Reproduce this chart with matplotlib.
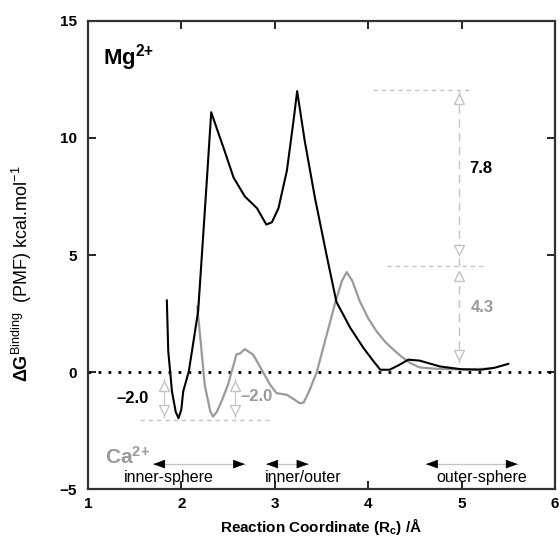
import matplotlib
matplotlib.use("Agg")
import matplotlib.pyplot as plt
import numpy as np

plt.rcParams['font.family'] = ['Liberation Sans', 'DejaVu Sans']
plt.rcParams['mathtext.fontset'] = 'custom'
plt.rcParams['mathtext.rm'] = 'Liberation Sans'
plt.rcParams['mathtext.bf'] = 'Liberation Sans:bold'
plt.rcParams['mathtext.it'] = 'Liberation Sans:italic'

# PMF for Mg2+ (black)
mg_x = [1.845, 1.86, 1.90, 1.94, 1.97, 2.00, 2.02, 2.08, 2.13, 2.18, 2.22, 2.27, 2.32,
        2.38, 2.45, 2.56, 2.68, 2.81, 2.91, 2.97, 3.04, 3.13, 3.20, 3.24, 3.32, 3.43,
        3.56, 3.66, 3.81, 3.95, 4.05, 4.13, 4.23, 4.33, 4.43, 4.55, 4.77, 5.0, 5.2,
        5.35, 5.5]
mg_y = [3.06, 0.89, -0.83, -1.7, -1.97, -1.6, -0.83, 0.03, 1.31, 2.6, 5.0, 8.0, 11.1,
        10.4, 9.6, 8.3, 7.5, 7.0, 6.3, 6.4, 7.0, 8.6, 10.7, 12.0, 9.9, 7.45,
        4.9, 3.0, 1.88, 1.03, 0.5, 0.1, 0.1, 0.3, 0.53, 0.49, 0.24, 0.12, 0.1,
        0.18, 0.35]

# PMF for Ca2+ (grey)
ca_x = [2.17, 2.20, 2.25, 2.31, 2.34, 2.38, 2.43, 2.50, 2.56, 2.59, 2.63, 2.68, 2.77,
        2.88, 2.95, 3.02, 3.13, 3.20, 3.27, 3.31, 3.37, 3.45, 3.55, 3.65, 3.72, 3.77,
        3.83, 3.91, 4.0, 4.09, 4.18, 4.27, 4.36, 4.45, 4.55, 4.7, 4.9, 5.1, 5.3]
ca_y = [2.8, 1.6, -0.54, -1.68, -1.9, -1.7, -1.25, -0.54, 0.32, 0.75, 0.8, 0.98, 0.74,
        -0.04, -0.54, -0.9, -0.97, -1.15, -1.33, -1.3, -0.8, 0.0, 1.5, 3.0, 3.9, 4.27,
        3.9, 3.03, 2.3, 1.74, 1.3, 0.96, 0.65, 0.39, 0.2, 0.15, 0.12, 0.12, 0.15]

x_ticks = [1, 2, 3, 4, 5, 6]
y_ticks = [-5, 0, 5, 10, 15]

# barrier / well depths
barrier_mg = 7.8
barrier_ca = 4.3
well_mg = -2.0
well_ca = -2.0

regions = ['inner-sphere', 'inner/outer', 'outer-sphere']
region_text_x = [1.865, 3.30, 5.22]
region_arrow_x = [(1.70, 2.68), (2.91, 3.36), (4.62, 5.60)]

GREY = '#9a9a9a'
LIGHT = '#c4c4c4'

fig = plt.figure(figsize=(5.6, 5.49), dpi=100)
ax = fig.add_axes([0.157, 0.109, 0.834, 0.853])

ax.axhline(0, color='black', lw=2.0, linestyle=(0, (1, 2.6)), zorder=1)

ax.plot(ca_x, ca_y, color=GREY, lw=1.6, zorder=3)
ax.plot(mg_x, mg_y, color='black', lw=1.5, zorder=4)

# barrier annotations (right)
ax.plot([4.05, 5.09], [12.05, 12.05], color=LIGHT, lw=1.0, ls=(0, (3, 3)))
ax.plot([4.20, 5.27], [4.52, 4.52], color=LIGHT, lw=1.0, ls=(0, (3, 3)))
ax.plot([4.97, 4.97], [12.0, 0.3], color=LIGHT, lw=1.0, ls=(0, (6, 4)))
ax.plot([4.97], [11.65], marker='^', ms=7, mfc='white', mec=LIGHT, mew=1.0)
ax.plot([4.97], [5.2], marker='v', ms=7, mfc='white', mec=LIGHT, mew=1.0)
ax.plot([4.97], [4.1], marker='^', ms=7, mfc='white', mec=LIGHT, mew=1.0)
ax.plot([4.97], [0.75], marker='v', ms=7, mfc='white', mec=LIGHT, mew=1.0)
ax.text(5.08, 8.7, f'{barrier_mg:.1f}', fontsize=12, fontweight='bold', color='black', va='center')
ax.text(5.10, 2.75, f'{barrier_ca:.1f}', fontsize=12, fontweight='bold', color=GREY, va='center')

# well annotations (left)
ax.plot([1.56, 2.95], [-2.05, -2.05], color=LIGHT, lw=1.0, ls=(0, (3, 3)))
for xa in [1.81, 2.575]:
    ax.plot([xa, xa], [-0.3, -1.9], color=LIGHT, lw=0.8)
    ax.plot([xa], [-0.6], marker='^', ms=7, mfc='white', mec=LIGHT, mew=1.0)
    ax.plot([xa], [-1.6], marker='v', ms=7, mfc='white', mec=LIGHT, mew=1.0)
ax.text(1.31, -1.14, f'\u2013{abs(well_mg):.1f}', fontsize=12, fontweight='bold', color='black', va='center')
ax.text(2.63, -1.05, f'\u2013{abs(well_ca):.1f}', fontsize=12, fontweight='bold', color=GREY, va='center')

# ion labels
ax.text(1.165, 13.13, r'Mg$^{\mathbf{2{+}}}$', fontsize=16, fontweight='bold', color='black', va='baseline')
ax.text(1.185, -3.9, r'Ca$^{\mathbf{2{+}}}$', fontsize=15, fontweight='bold', color=GREY, va='baseline')

# region arrows
for name, tx, (xa, xb) in zip(regions, region_text_x, region_arrow_x):
    ax.plot([xa, xb], [-3.93, -3.93], color=LIGHT, lw=1.0)
    for end, d in [(xa, 1), (xb, -1)]:
        ax.annotate('', xy=(end, -3.93), xytext=(end + d * 0.1, -3.93),
                    arrowprops=dict(arrowstyle='-|>,head_length=0.75,head_width=0.28',
                                    color='black', lw=0.5, shrinkA=0, shrinkB=0))
    ax.text(tx, -4.68, name, fontsize=11.5, ha='center', va='baseline')

ax.set_xlim(1, 6)
ax.set_ylim(-5, 15)
ax.set_xticks(x_ticks)
ax.set_yticks(y_ticks)
ax.tick_params(direction='in', length=6, width=1.2, top=True, right=True,
               labelsize=11)
ax.tick_params(axis='x', pad=6)
ax.tick_params(axis='y', pad=8)
for lab in ax.get_xticklabels() + ax.get_yticklabels():
    lab.set_fontweight('bold')
for sp in ax.spines.values():
    sp.set_linewidth(1.6)
    sp.set_color('#333333')

ax.set_xlabel(r'Reaction Coordinate (R$_{\mathbf{c}}$) /Å', fontsize=11, fontweight='bold')
ax.xaxis.set_label_coords(0.5, -0.058)
ax.set_ylabel(r'$\mathbf{\Delta G}^{\mathrm{Binding}}$  (PMF) kcal.mol$^{\mathrm{-1}}$', fontsize=13)
ax.yaxis.set_label_coords(-0.115, 0.46)

fig.savefig('out.png', dpi=100)
